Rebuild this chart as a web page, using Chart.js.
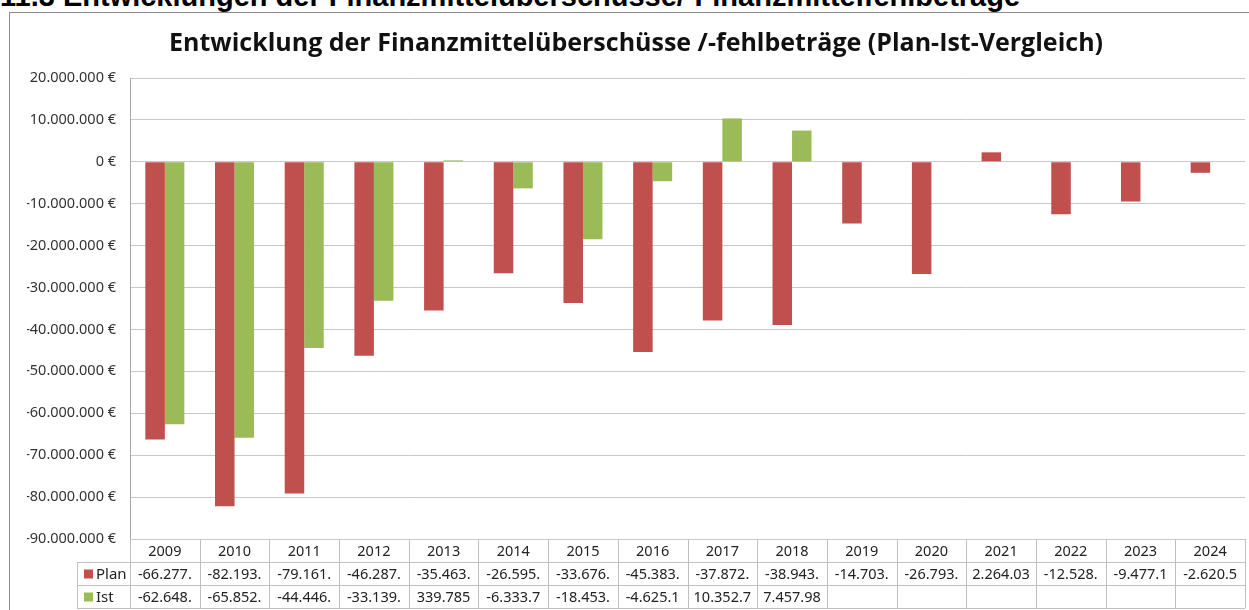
<!DOCTYPE html>
<html>
<head>
<meta charset="utf-8">
<script src="https://cdn.jsdelivr.net/npm/chart.js@4.4.1/dist/chart.umd.min.js"></script>
<style>
  html, body { margin: 0; padding: 0; background: #fff; }
  body { width: 1249px; height: 610px; position: relative; overflow: hidden; }
  #hdr { position: absolute; left: 0px; top: -21px; font: bold 29px "Liberation Sans", Arial, sans-serif; line-height: 34px; color: #000; white-space: nowrap; }
  #frame { position: absolute; left: 9px; top: 12px; width: 1260px; height: 620px; border-left: 1.5px solid #8c8c8c; border-top: 1.5px solid #8c8c8c; }
  #wrap { position: absolute; left: 0; top: 0; width: 1249px; height: 610px; }
</style>
</head>
<body>
<div id="hdr">11.3 Entwicklungen der Finanzmittelüberschüsse/-Finanzmittelfehlbeträge</div>
<div id="frame"></div>
<div id="wrap"><canvas id="c" width="1249" height="610"></canvas></div>
<script>
const categories = ['2009','2010','2011','2012','2013','2014','2015','2016','2017','2018','2019','2020','2021','2022','2023','2024'];
const planValues = [-66277000, -82193000, -79161000, -46287000, -35463000, -26595000, -33676000, -45383000, -37872000, -38943000, -14703000, -26793000, 2264030, -12528000, -9477100, -2620500];
const istValues  = [-62648000, -65852000, -44446000, -33139000, 339785, -6333700, -18453000, -4625100, 10352700, 7457980, null, null, null, null, null, null];
const seriesNames = ['Plan', 'Ist'];
const chartTitle = 'Entwicklung der Finanzmittelüberschüsse /-fehlbeträge (Plan-Ist-Vergleich)';
const yMin = -90000000, yMax = 20000000, yStep = 10000000;

const RED = '#C0504D', GREEN = '#9BBB59';
const FONT = '"Noto Sans", "Open Sans", sans-serif';

function groupDE(v) {
  const neg = v < 0;
  let s = String(Math.round(Math.abs(v)));
  let out = '';
  while (s.length > 3) { out = '.' + s.slice(-3) + out; s = s.slice(0, -3); }
  return (neg ? '-' : '') + s + out;
}
function cellText(v) {
  if (v === null || v === undefined) return '';
  return groupDE(v).slice(0, 8);
}

const PAD_LEFT = 27, AXIS_RIGHT = 130, ROW_H = 23;

const tablePlugin = {
  id: 'dataTable',
  afterDraw(chart) {
    const ctx = chart.ctx;
    const area = chart.chartArea;
    const xs = chart.scales.x;
    const n = categories.length;
    const w = (area.right - area.left) / n;
    const top = area.bottom;
    ctx.save();
    ctx.strokeStyle = '#bfbfbf';
    ctx.lineWidth = 1;
    for (let r = 1; r <= 3; r++) {
      const y = Math.round(top + r * ROW_H) + 0.5;
      ctx.beginPath();
      ctx.moveTo(77, y);
      ctx.lineTo(area.right, y);
      ctx.stroke();
    }
    for (let i = 0; i <= n; i++) {
      const x = Math.round(area.left + i * w) + 0.5;
      ctx.beginPath();
      ctx.moveTo(x, top);
      ctx.lineTo(x, top + 3 * ROW_H);
      ctx.stroke();
    }
    ctx.beginPath();
    ctx.moveTo(77.5, top + ROW_H);
    ctx.lineTo(77.5, top + 3 * ROW_H);
    ctx.stroke();

    ctx.fillStyle = '#222';
    ctx.font = '14.5px ' + FONT;
    ctx.textAlign = 'center';
    ctx.textBaseline = 'middle';
    for (let i = 0; i < n; i++) {
      const cx = xs.getPixelForValue(i);
      ctx.fillText(categories[i], cx, top + ROW_H * 0.5 + 1);
      ctx.fillText(cellText(planValues[i]), cx, top + ROW_H * 1.5 + 1);
      ctx.fillText(cellText(istValues[i]), cx, top + ROW_H * 2.5 + 1);
    }
    const colors = [RED, GREEN];
    ctx.textAlign = 'left';
    ctx.font = '15px ' + FONT;
    for (let r = 0; r < 2; r++) {
      const yc = top + ROW_H * (1.5 + r);
      ctx.fillStyle = colors[r];
      ctx.fillRect(84, yc - 4, 9, 9);
      ctx.fillStyle = '#222';
      ctx.fillText(seriesNames[r], 96, yc + 1);
    }
    ctx.restore();
  }
};

new Chart(document.getElementById('c'), {
  type: 'bar',
  data: {
    labels: categories,
    datasets: [
      { label: seriesNames[0], data: planValues, backgroundColor: RED, categoryPercentage: 0.56, barPercentage: 1.0 },
      { label: seriesNames[1], data: istValues, backgroundColor: GREEN, categoryPercentage: 0.56, barPercentage: 1.0 }
    ]
  },
  options: {
    responsive: false,
    animation: false,
    layout: { padding: { left: PAD_LEFT, right: 4, top: 0, bottom: 3 * ROW_H + 2 } },
    plugins: {
      legend: { display: false },
      tooltip: { enabled: false },
      title: {
        display: true,
        text: chartTitle,
        color: '#111',
        font: { family: '"Open Sans", sans-serif', size: 25, weight: 'bold' },
        padding: { top: 29, bottom: 19 }
      }
    },
    scales: {
      x: {
        display: false,
        grid: { display: false }
      },
      y: {
        min: yMin, max: yMax,
        afterFit(scale) { scale.width = AXIS_RIGHT - PAD_LEFT; },
        ticks: {
          stepSize: yStep,
          padding: 14,
          color: '#333',
          font: { family: FONT, size: 14.5 },
          callback: v => groupDE(v) + ' €'
        },
        grid: { color: '#c8c8c8', drawTicks: false, lineWidth: 1 },
        border: { display: true, color: '#a6a6a6' }
      }
    }
  },
  plugins: [tablePlugin]
});
</script>
</body>
</html>
